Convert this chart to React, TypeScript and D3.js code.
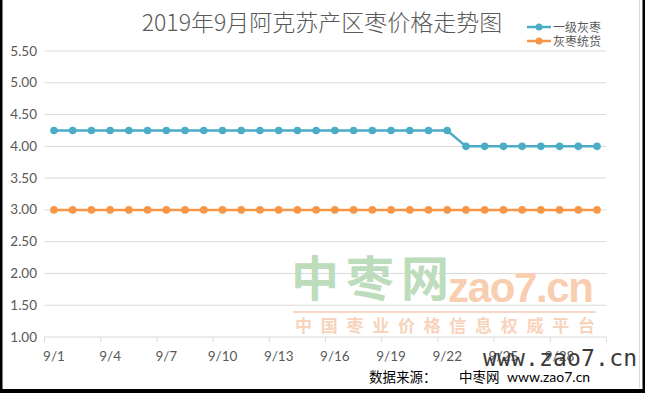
import React from "react";
import * as d3 from "d3";

const dates: string[] = Array.from({ length: 30 }, (_, i) => `9/${i + 1}`);
const gradeOne: number[] = [
  4.25, 4.25, 4.25, 4.25, 4.25, 4.25, 4.25, 4.25, 4.25, 4.25,
  4.25, 4.25, 4.25, 4.25, 4.25, 4.25, 4.25, 4.25, 4.25, 4.25,
  4.25, 4.25, 4.0, 4.0, 4.0, 4.0, 4.0, 4.0, 4.0, 4.0,
];
const general: number[] = [
  3.0, 3.0, 3.0, 3.0, 3.0, 3.0, 3.0, 3.0, 3.0, 3.0,
  3.0, 3.0, 3.0, 3.0, 3.0, 3.0, 3.0, 3.0, 3.0, 3.0,
  3.0, 3.0, 3.0, 3.0, 3.0, 3.0, 3.0, 3.0, 3.0, 3.0,
];
const yTicks: number[] = [1.0, 1.5, 2.0, 2.5, 3.0, 3.5, 4.0, 4.5, 5.0, 5.5];
const xLabels: string[] = ["9/1", "9/4", "9/7", "9/10", "9/13", "9/16", "9/19", "9/22", "9/25", "9/28"];
const seriesNames: string[] = ["一级灰枣", "灰枣统货"];
const seriesColors: string[] = ["#4bacc6", "#f79646"];
const title = "2019年9月阿克苏产区枣价格走势图";

const W = 645;
const H = 393;
const axisFont = "Lato, 'Open Sans', sans-serif";
const cjk = "'Noto Sans CJK SC', sans-serif";

export default function App() {
  const x = d3.scaleBand<string>().domain(dates).range([44.6, 606.4]).padding(0);
  const y = d3.scaleLinear().domain([1, 5.5]).range([337, 51]);
  const cx = (d: string) => (x(d) as number) + x.bandwidth() / 2;
  const line = d3
    .line<number>()
    .x((_, i) => cx(dates[i]))
    .y((v) => y(v));
  const series = [gradeOne, general];
  const tickIdx = d3.range(0, 31, 3);

  return (
    <svg
      width={W}
      height={H}
      style={{ position: "fixed", left: 0, top: 0, background: "#fff" }}
    >
      <rect x={0} y={0} width={W} height={H} fill="#fff" />
      {yTicks.map((t) => (
        <line key={t} x1={44.6} x2={606.4} y1={y(t)} y2={y(t)} stroke="#d9d9d9" strokeWidth={1} />
      ))}
      {tickIdx.map((i) => {
        const xp = i < 30 ? (x(dates[i]) as number) : 606.4;
        return <line key={i} x1={xp} x2={xp} y1={337} y2={342} stroke="#d9d9d9" />;
      })}
      {yTicks.map((t) => (
        <text key={t} x={37} y={y(t) + 4.5} textAnchor="end" fontSize={13.5} fill="#595959" fontFamily={axisFont}>
          {t.toFixed(2)}
        </text>
      ))}
      <g>
        <text x={291} y={296} fontSize={48} fontFamily={cjk} fontWeight={700} fill="#bcdcbc" letterSpacing={7}>
          中枣网
        </text>
        <text x={448} y={302} fontSize={42} fontWeight={700} fontFamily="'Liberation Sans', Arial, sans-serif" fill="#f8cdb0" textLength={146} lengthAdjust="spacing">
          zao7.cn
        </text>
        <line x1={293} x2={596} y1={312} y2={312} stroke="#f8cdb0" strokeWidth={1.5} />
        <text x={295} y={332} fontSize={17} fontFamily={cjk} fontWeight={700} fill="#f8d3bb" textLength={300} lengthAdjust="spacing">
          中国枣业价格信息权威平台
        </text>
      </g>
      {xLabels.map((l) => (
        <text key={l} x={cx(l)} y={361} textAnchor="middle" fontSize={13.5} fill="#595959" fontFamily={axisFont}>
          {l}
        </text>
      ))}
      {series.map((s, k) => (
        <g key={k}>
          <path d={line(s) as string} fill="none" stroke={seriesColors[k]} strokeWidth={2.5} />
          {s.map((v, i) => (
            <circle key={i} cx={cx(dates[i])} cy={y(v)} r={3.8} fill={seriesColors[k]} />
          ))}
        </g>
      ))}
      <text x={322} y={31} textAnchor="middle" fontSize={23} fontWeight={300} fill="#595959" fontFamily={cjk}>
        {title}
      </text>
      {seriesNames.map((n, k) => (
        <g key={n} transform={`translate(0, ${27 + k * 14})`}>
          <line x1={527} x2={551} y1={0} y2={0} stroke={seriesColors[k]} strokeWidth={2.5} />
          <circle cx={539} cy={0} r={3.5} fill={seriesColors[k]} />
          <text x={553} y={4.5} fontSize={12} fill="#595959" fontFamily={cjk}>
            {n}
          </text>
        </g>
      ))}
      <text x={483} y={366} fontSize={23} fontFamily="'DejaVu Sans Mono', monospace" fill="#3a3a3a" textLength={154} lengthAdjust="spacing">
        www.zao7.cn
      </text>
      <text x={369} y={382} fontSize={13.5} fontFamily={cjk} fill="#000">
        <tspan>数据来源：</tspan>
        <tspan x={459}>中枣网</tspan>
        <tspan x={507} fontFamily={axisFont} fontSize={14}>www.zao7.cn</tspan>
      </text>
      <line x1={639.5} x2={639.5} y1={0} y2={388} stroke="#d9d9d9" />
      <rect x={0} y={0} width={2.5} height={H} fill="#000" />
      <rect x={642.5} y={0} width={2.5} height={H} fill="#000" />
      <rect x={0} y={389} width={W} height={4} fill="#000" />
    </svg>
  );
}
